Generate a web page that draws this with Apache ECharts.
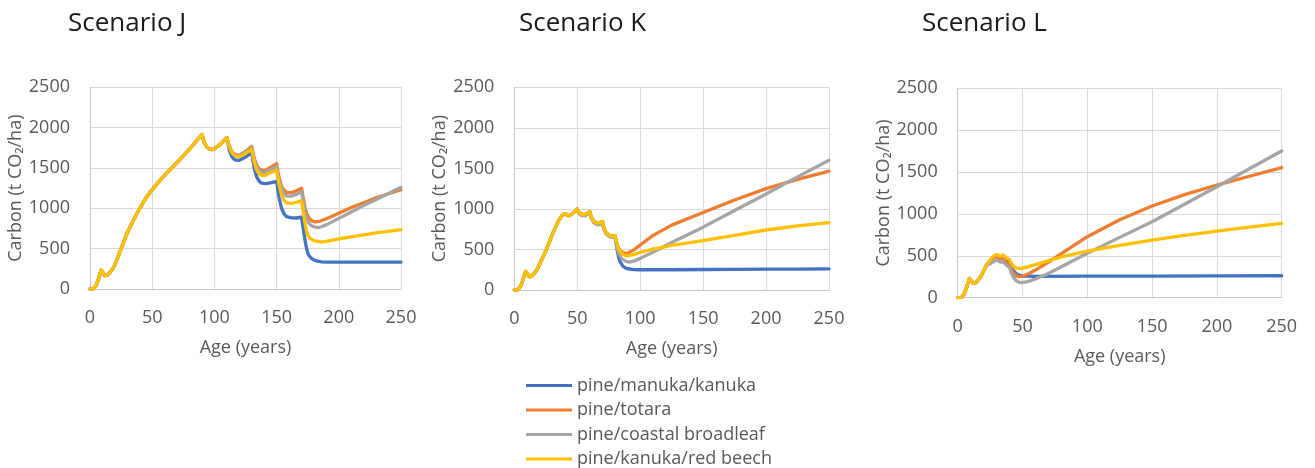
<!DOCTYPE html>
<html>
<head>
<meta charset="utf-8">
<script src="https://cdn.jsdelivr.net/npm/echarts@6/dist/echarts.min.js"></script>
<style>
html,body{margin:0;padding:0;background:#fff;}
#c{width:1315px;height:468px;}
</style>
</head>
<body>
<div id="c"></div>
<script>
// ---- DATA (age in years, carbon in t CO2/ha) ----
const seriesNames = ['pine/manuka/kanuka','pine/totara','pine/coastal broadleaf','pine/kanuka/red beech'];
const titles = ['Scenario J','Scenario K','Scenario L'];
const xTicks = [0,50,100,150,200,250];
const yTicks = [0,500,1000,1500,2000,2500];

// Scenario J
const J_common = [[0,0],[3,5],[5,45],[7,130],[9,235],[10,210],[12,165],[14,175],[16,205],[18,245],[20,300],[22,380],[25,500],[30,700],[35,855],[40,1000],[45,1130],[50,1230],[55,1325],[60,1410],[65,1490],[70,1570],[75,1650],[80,1735],[85,1825],[90,1915],[91,1860],[92,1810],[94,1760],[96,1735],[98,1728],[100,1738],[105,1795],[110,1875]];
const J_manuka = [[112,1720],[114,1640],[116,1605],[118,1595],[120,1595],[125,1635],[130,1690],[131,1590],[132,1500],[134,1390],[136,1335],[138,1312],[141,1305],[145,1315],[150,1335],[151,1230],[152,1130],[154,1000],[156,930],[158,898],[162,882],[166,880],[170,890],[171,790],[172,690],[173,590],[174,510],[175,450],[176,415],[178,380],[180,360],[183,345],[186,337],[190,333],[200,332],[225,332],[250,332]];
const J_totara = [[112,1770],[114,1705],[116,1675],[118,1662],[120,1660],[125,1705],[130,1770],[131,1690],[132,1620],[134,1530],[136,1490],[138,1472],[141,1470],[145,1508],[150,1555],[151,1460],[152,1380],[154,1270],[156,1222],[158,1198],[162,1195],[166,1218],[170,1250],[171,1170],[172,1080],[173,1000],[174,940],[176,880],[178,848],[181,832],[185,842],[190,870],[200,940],[210,1010],[220,1070],[230,1130],[240,1180],[250,1230]];
const J_broadleaf = [[112,1765],[114,1695],[116,1665],[118,1652],[120,1650],[125,1695],[130,1750],[131,1670],[132,1600],[134,1510],[136,1467],[138,1447],[141,1445],[145,1478],[150,1515],[151,1420],[152,1340],[154,1230],[156,1177],[158,1152],[162,1150],[166,1175],[170,1205],[171,1120],[172,1030],[173,950],[174,885],[176,815],[178,785],[181,767],[184,762],[190,795],[200,875],[210,955],[220,1035],[230,1110],[240,1185],[250,1260]];
const J_beech = [[112,1760],[114,1690],[116,1655],[118,1642],[120,1640],[125,1680],[130,1730],[131,1645],[132,1570],[134,1472],[136,1428],[138,1410],[141,1410],[145,1442],[150,1475],[151,1380],[152,1290],[154,1165],[156,1098],[158,1068],[162,1060],[166,1075],[170,1095],[171,1000],[172,900],[173,800],[174,720],[175,670],[177,625],[180,600],[184,588],[187,585],[190,590],[200,620],[210,645],[220,670],[230,695],[240,715],[250,735]];

// Scenario K
const K_common = [[0,0],[3,5],[5,45],[7,130],[9,230],[10,205],[12,165],[14,175],[16,205],[18,250],[20,310],[22,380],[25,480],[30,680],[35,850],[38,920],[40,940],[41,920],[43,915],[45,928],[48,965]];
const K_mid = [[50,1000],[51,965],[53,935],[56,928],[58,945],[60,965],[61,905],[63,850],[66,825],[68,830],[70,845],[71,770],[73,705],[76,670],[78,665],[80,670]];
const K_midBroadleaf = [[50,990],[51,950],[53,920],[56,913],[58,930],[60,950],[61,888],[63,832],[66,805],[68,810],[70,825],[71,752],[73,690],[76,655],[78,650],[80,655]];
const K_manuka = [[81,560],[82,470],[83,400],[84,350],[86,300],[88,275],[90,262],[95,252],[100,250],[125,250],[150,253],[175,255],[200,257],[225,258],[250,260]];
const K_totara = [[81,600],[82,545],[83,510],[85,472],[88,452],[90,455],[95,495],[100,555],[110,670],[125,800],[150,955],[175,1110],[200,1250],[225,1365],[250,1465]];
const K_broadleaf = [[81,570],[82,500],[83,450],[85,392],[88,358],[91,345],[95,355],[100,390],[110,465],[125,585],[150,775],[175,980],[200,1185],[225,1395],[250,1600]];
const K_beech = [[81,600],[82,540],[83,500],[85,455],[88,428],[90,422],[95,440],[100,465],[110,505],[125,550],[150,610],[175,675],[200,740],[225,790],[250,830]];

// Scenario L
const L_common = [[0,0],[3,5],[5,45],[7,130],[9,230],[10,210],[12,172],[14,180],[16,215],[18,255],[20,320],[22,385]];
const L_manuka = [[25,440],[28,482],[30,495],[31,488],[33,478],[35,482],[36,468],[38,448],[40,435],[41,385],[43,322],[45,290],[47,272],[50,259],[60,255],[100,257],[150,258],[200,260],[250,262]];
const L_totara = [[25,440],[28,480],[30,495],[31,480],[33,465],[35,470],[36,448],[38,412],[40,392],[41,352],[43,292],[45,263],[47,252],[49,254],[52,268],[55,290],[60,330],[70,425],[80,525],[100,728],[125,930],[150,1095],[175,1230],[200,1345],[225,1450],[250,1552]];
const L_broadleaf = [[25,405],[28,435],[30,450],[31,440],[33,425],[35,430],[36,410],[38,382],[40,365],[41,312],[43,242],[45,205],[47,187],[49,180],[52,186],[55,198],[60,222],[70,290],[80,370],[100,530],[125,720],[150,907],[175,1115],[200,1325],[225,1540],[250,1751]];
const L_beech = [[25,455],[28,498],[30,515],[31,505],[33,495],[35,510],[36,490],[38,468],[40,455],[41,420],[43,375],[45,355],[48,348],[50,352],[55,372],[60,395],[70,442],[80,488],[100,557],[125,625],[150,688],[175,745],[200,796],[225,843],[250,888]];

const colors = ['#4472C4','#ED7D31','#A5A5A5','#FFC000'];

const panelData = [
  [J_common.concat(J_manuka), J_common.concat(J_totara), J_common.concat(J_broadleaf), J_common.concat(J_beech)],
  [K_common.concat(K_mid, K_manuka), K_common.concat(K_mid, K_totara), K_common.concat(K_midBroadleaf, K_broadleaf), K_common.concat(K_mid, K_beech)],
  [L_common.concat(L_manuka), L_common.concat(L_totara), L_common.concat(L_broadleaf), L_common.concat(L_beech)]
];

// ---- LAYOUT ----
const grids = [
  {left:90, top:87.3, width:311, height:201.7},
  {left:514.3, top:87.3, width:314.7, height:202.7},
  {left:957.7, top:88.3, width:324, height:209.4}
];
const titleLeft = [68, 519, 922];
const FONT = '"Open Sans", sans-serif';
const TXT = '#595959';

const option = {
  animation:false,
  backgroundColor:'#fff',
  textStyle:{fontFamily:FONT},
  title: titles.map((t,i)=>({text:t,left:titleLeft[i],top:11,padding:0,textStyle:{fontFamily:FONT,fontSize:26,fontWeight:'normal',color:'#1a1a1a'}})),
  legend:{
    data:seriesNames, orient:'vertical', left:526, top:376, width:300, height:120, padding:0, icon:'rect',
    itemWidth:46, itemHeight:3, itemGap:5.5, selectedMode:false,
    textStyle:{fontFamily:FONT,fontSize:18,color:TXT,lineHeight:19}
  },
  grid: grids.map(g=>Object.assign({containLabel:false},g)),
  xAxis: grids.map((g,i)=>({
    type:'value', gridIndex:i, min:xTicks[0], max:xTicks[xTicks.length-1], interval:50,
    name:'Age (years)', nameLocation:'middle', nameGap:50,
    nameTextStyle:{fontFamily:FONT,fontSize:18,color:TXT},
    axisLine:{show:true,lineStyle:{color:'#c8c8c8',width:1}},
    axisTick:{show:false},
    axisLabel:{fontFamily:FONT,fontSize:18,color:TXT,margin:20,formatter:v=>String(v)},
    splitLine:{show:true,lineStyle:{color:'#d9d9d9',width:1}}
  })),
  yAxis: grids.map((g,i)=>({
    type:'value', gridIndex:i, min:yTicks[0], max:yTicks[yTicks.length-1], interval:500,
    name:'Carbon (t CO\u2082/ha)', nameLocation:'middle', nameGap:50,
    nameTextStyle:{fontFamily:FONT,fontSize:18,color:TXT},
    axisLine:{show:true,lineStyle:{color:'#c8c8c8',width:1}},
    axisTick:{show:false},
    axisLabel:{fontFamily:FONT,fontSize:18,color:TXT,margin:20,formatter:v=>String(v)},
    splitLine:{show:true,lineStyle:{color:'#d9d9d9',width:1}}
  })),
  series: []
};

panelData.forEach((arr,gi)=>{
  arr.forEach((d,si)=>{
    option.series.push({
      type:'line', name:seriesNames[si], xAxisIndex:gi, yAxisIndex:gi,
      data:d, showSymbol:false, symbol:'none', smooth:false,
      lineStyle:{width:3.3,color:colors[si],join:'round',cap:'round'},
      itemStyle:{color:colors[si]}, z:2+si
    });
  });
});

const chart = echarts.init(document.getElementById('c'), null, {renderer:'canvas'});
chart.setOption(option);
</script>
</body>
</html>
